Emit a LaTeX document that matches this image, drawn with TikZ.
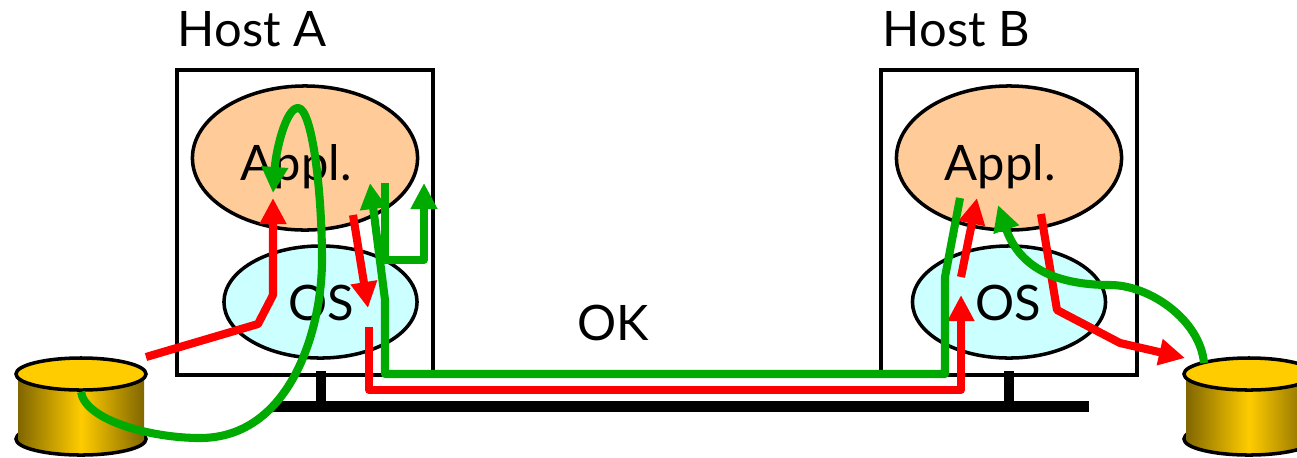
\documentclass[tikz,border=0pt]{standalone}
\usepackage{fontspec}
\setmainfont{Lato}
\usetikzlibrary{arrows.meta, shapes.geometric}

\definecolor{applfill}{HTML}{FFCC99}
\definecolor{osfill}{HTML}{CCFFFF}
\definecolor{diskgold}{HTML}{FFCC00}
\definecolor{diskdark}{HTML}{806600}
\definecolor{pathgreen}{HTML}{00AA00}
\definecolor{pathred}{HTML}{FF0000}

\begin{document}
\begin{tikzpicture}[x=0.01cm, y=-0.01cm,
		hostbox/.style={draw, line width=1pt, minimum width=2.56cm, minimum height=3.05cm, inner sep=0},
		applblob/.style={draw, ellipse, line width=1pt, fill=applfill, minimum width=2.25cm, minimum height=1.44cm, inner sep=0},
		osblob/.style={draw, ellipse, line width=1pt, fill=osfill, minimum width=1.93cm, minimum height=1.12cm, inner sep=0},
		disktop/.style={draw, ellipse, line width=1pt, fill=diskgold, minimum width=1.3cm, minimum height=0.32cm, inner sep=0},
		diskend/.style={disktop, left color=diskdark, right color=diskdark, middle color=diskgold},
		textlabel/.style={font=\fontsize{13.9}{16}\selectfont, inner sep=0, anchor=base west},
		wire/.style={line width=2.3pt, line join=round},
		arrowed/.style={-{Triangle[length=7.4pt, width=7.2pt]}},
		redpath/.style={wire, color=pathred},
		greenpath/.style={wire, color=pathgreen}]
		\path [use as bounding box, clip] (0,0) rectangle (1297,457);

		% network
		\node [fill, minimum width=0.1cm, minimum height=0.34cm, inner sep=0] (standA) at (321,388) {};
		\node [fill, minimum width=0.1cm, minimum height=0.34cm, inner sep=0] (standB) at (1009,388) {};
		\node [fill, minimum width=8.16cm, minimum height=0.11cm, inner sep=0] (bar) at (681,406) {};

		% hosts
		\node [hostbox] (hostA) at (305,222.5) {};
		\node [hostbox] (hostB) at (1009,222.5) {};
		\node [applblob] (applA) at (305,158) {};
		\node [applblob] (applB) at (1009,158) {};
		\node [osblob] (osA) at (320.5,302) {};
		\node [osblob] (osB) at (1009,302) {};

		% disks
		\node [diskend] (diskAbase) at (81,439) {};
		\shade [left color=diskdark, right color=diskdark, middle color=diskgold] (18,374) rectangle (144,439);
		\node [disktop] (diskA) at (81,374) {};
		\node [diskend] (diskBbase) at (1249,439) {};
		\shade [left color=diskdark, right color=diskdark, middle color=diskgold] (1186,374) rectangle (1312,439);
		\node [disktop] (diskB) at (1249,374) {};

		% labels
		\node [textlabel] (hostAlabel) at (177,46) {Host A};
		\node [textlabel] (hostBlabel) at (882,46) {Host B};
		\node [textlabel] (applAlabel) at (240,180) {Appl.};
		\node [textlabel] (applBlabel) at (944,180) {Appl.};
		\node [textlabel] (osAlabel) at (288,320) {OS};
		\node [textlabel] (osBlabel) at (975,320) {OS};
		\node [textlabel] (oklabel) at (577,340) {OK};

		% red paths
		\coordinate (r1a) at (146,357);
		\coordinate (r1b) at (258,324);
		\coordinate (r1c) at (273,295);
		\coordinate (r1d) at (273,198);
		\draw [redpath, arrowed] (r1a) -- (r1b) -- (r1c) -- (r1d);
		\coordinate (r2a) at (353,215);
		\coordinate (r2b) at (368,308);
		\draw [redpath, arrowed] (r2a) -- (r2b);
		\coordinate (r3a) at (369,327);
		\coordinate (r3b) at (369,390);
		\coordinate (r3c) at (961,390);
		\coordinate (r3d) at (961,295);
		\draw [redpath, arrowed] (r3a) -- (r3b) -- (r3c) -- (r3d);
		\coordinate (r4a) at (961,277);
		\coordinate (r4b) at (977,198);
		\draw [redpath, arrowed] (r4a) -- (r4b);
		\coordinate (r5a) at (1041,214);
		\coordinate (r5b) at (1057,310);
		\coordinate (r5c) at (1120,343);
		\coordinate (r5d) at (1185,358);
		\draw [redpath, arrowed] (r5a) -- (r5b) -- (r5c) -- (r5d);

		% green paths
		\coordinate (g1a) at (200,438);
		\coordinate (g1b) at (322,260);
		\coordinate (g1c) at (298,108);
		\coordinate (g1d) at (273,193);
		\draw [greenpath, arrowed] (diskA.south) .. controls (85,420) and (150,438) .. (g1a)
			.. controls (290,438) and (322,330) .. (g1b)
			.. controls (322,190) and (312,108) .. (g1c)
			.. controls (286,108) and (276,150) .. (g1d);
		\coordinate (g2a) at (960,198);
		\coordinate (g2b) at (945,277);
		\coordinate (g2c) at (945,374);
		\coordinate (g2d) at (385,374);
		\coordinate (g2e) at (385,300);
		\coordinate (g2f) at (370,183);
		\draw [greenpath, arrowed] (g2a) -- (g2b) -- (g2c) -- (g2d) -- (g2e) -- (g2f);
		\coordinate (g3a) at (385,183);
		\coordinate (g3b) at (385,260);
		\coordinate (g3c) at (424,260);
		\coordinate (g3d) at (424,183);
		\draw [greenpath, arrowed] (g3a) -- (g3b) -- (g3c) -- (g3d);
		\coordinate (g4a) at (1204,363);
		\coordinate (g4b) at (1110,285);
		\coordinate (g4c) at (998,205);
		\draw [greenpath, arrowed] (g4a) .. controls (1200,320) and (1150,285) .. (g4b)
			.. controls (1060,285) and (1020,270) .. (g4c);
	\end{tikzpicture}
\end{document}
